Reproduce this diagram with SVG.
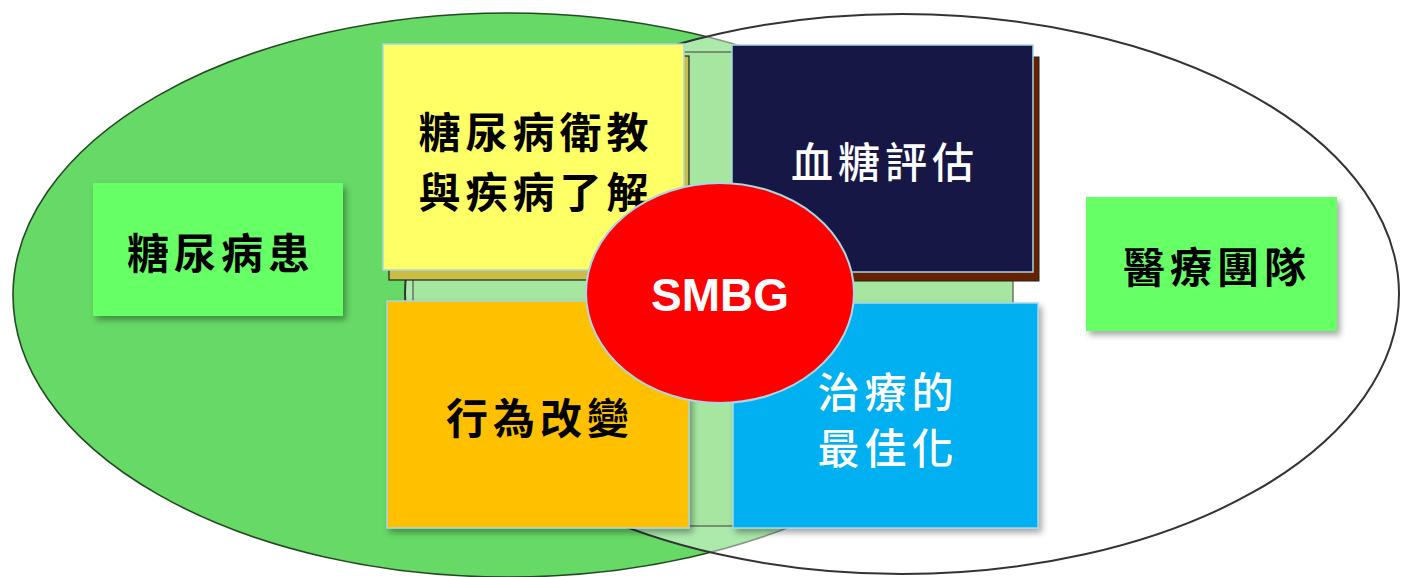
<svg xmlns="http://www.w3.org/2000/svg" width="1401" height="577" viewBox="0 0 1401 577">
  <defs>
    <filter id="soft" x="-10%" y="-10%" width="125%" height="130%">
      <feDropShadow dx="3" dy="4" stdDeviation="3" flood-color="#000" flood-opacity="0.35"/>
    </filter>
    <style>
      .cjk { font-family: "Noto Sans CJK TC", "Noto Sans CJK SC", sans-serif; font-size: 42px; letter-spacing: 5px; text-anchor: middle; }
      .dark { fill: #000; font-weight: 700; }
      .light { fill: #fff; font-weight: 500; }
      .card { stroke: #a9d6e3; stroke-width: 1.5; }
      .side { fill: #66ff66; }
    </style>
  </defs>
  <rect width="1401" height="577" fill="#fff"/>

  <!-- two overlapping sets -->
  <g id="sets">
    <ellipse cx="508" cy="295" rx="495" ry="282" fill="#66d966" stroke="#234a23" stroke-width="1.6"/>
    <ellipse cx="902" cy="294" rx="497" ry="280" fill="#fff" fill-opacity="0.45" stroke="#333" stroke-width="2"/>
  </g>

  <!-- backing panel behind the four cards -->
  <rect id="panel" x="413" y="52" width="600" height="474" fill="#a6e6a0" stroke="#555" stroke-width="1.2"/>

  <g id="patient">
    <rect class="side" x="93" y="183" width="250" height="133" filter="url(#soft)"/>
    <text class="cjk dark" x="221" y="269">糖尿病患</text>
  </g>

  <g id="team">
    <rect class="side" x="1086" y="197" width="251" height="134" filter="url(#soft)"/>
    <text class="cjk dark" x="1217" y="283">醫療團隊</text>
  </g>

  <g id="education">
    <rect x="389" y="56" width="300" height="224" fill="#c9bd45" stroke="#222" stroke-width="1.2"/>
    <rect class="card" x="383" y="44" width="301" height="226" fill="#ffff66"/>
    <text class="cjk dark" x="536" y="148">糖尿病衛教</text>
    <text class="cjk dark" x="536" y="208">與疾病了解</text>
  </g>

  <g id="glucose">
    <rect x="739" y="57" width="300" height="224" fill="#662200" stroke="#222" stroke-width="1"/>
    <rect class="card" x="732" y="45" width="301" height="227" fill="#171745"/>
    <text class="cjk light" x="885" y="178">血糖評估</text>
  </g>

  <g id="behavior">
    <rect class="card" x="387" y="301" width="302" height="227" fill="#ffc000" filter="url(#soft)"/>
    <text class="cjk dark" x="540" y="434">行為改變</text>
  </g>

  <g id="treatment">
    <rect class="card" x="733" y="303" width="305" height="225" fill="#00b0f0" filter="url(#soft)"/>
    <text class="cjk light" x="888" y="408">治療的</text>
    <text class="cjk light" x="888" y="464">最佳化</text>
  </g>

  <g id="smbg">
    <ellipse cx="720" cy="293" rx="134" ry="110" fill="#ff0000" stroke="#a9d6e3" stroke-width="2"/>
    <text x="720" y="311" fill="#fff" font-family="'Liberation Sans', Arial, sans-serif" font-weight="700" font-size="46" text-anchor="middle">SMBG</text>
  </g>
</svg>
